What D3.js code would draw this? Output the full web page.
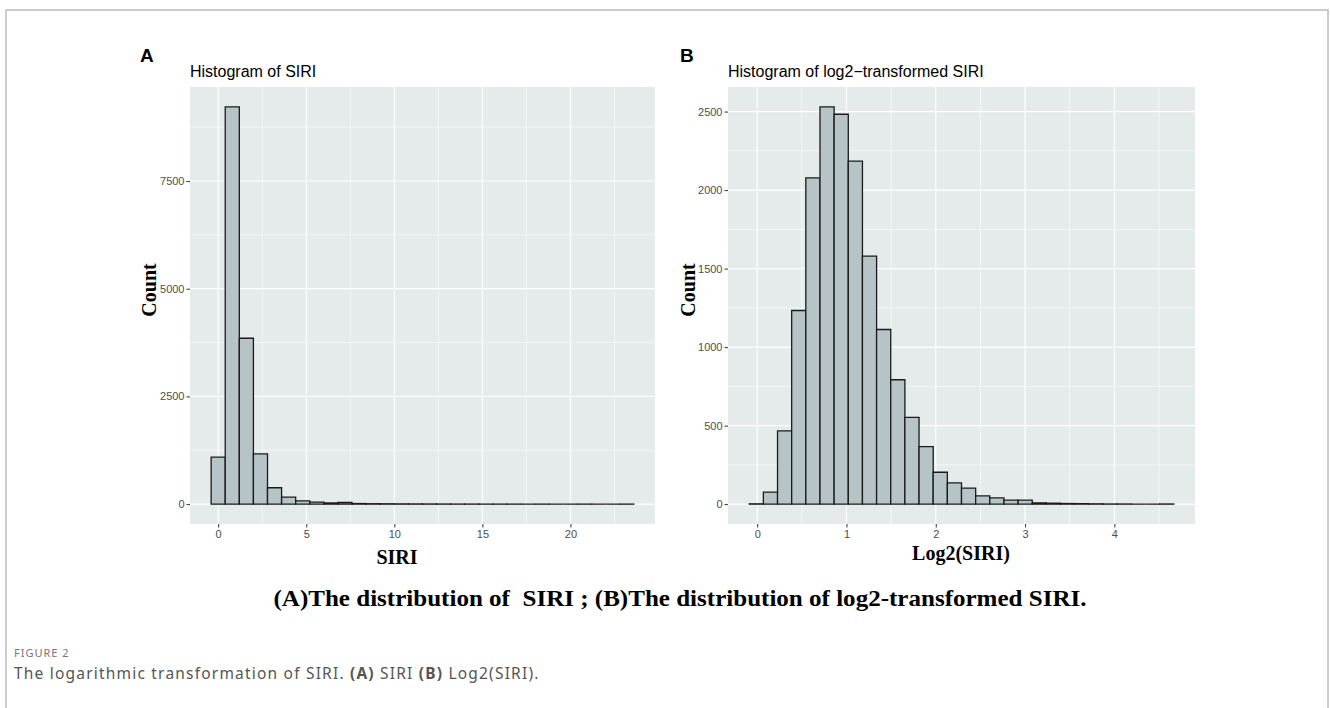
<!DOCTYPE html>
<html lang="en">
<head>
    <meta charset="UTF-8">
    <title>SIRI histograms</title>
    <script src="https://d3js.org/d3.v7.min.js"></script>
    <style>
        body {
            margin: 0;
            padding: 0;
            background: #fff;
            overflow: hidden;
        }
        .tick-label {
            font-family: "Liberation Sans", Arial, sans-serif;
            font-size: 11px;
            fill: #4d4d4d;
        }
        .axis-title {
            font-family: "Liberation Serif", "Times New Roman", serif;
            font-weight: bold;
            font-size: 20px;
            fill: #000;
        }
        .plot-title {
            font-family: "Liberation Sans", Arial, sans-serif;
            font-size: 16px;
            fill: #000;
        }
    </style>
</head>
<body>
    <svg width="1330" height="708"></svg>
    <script>

        // SIRI histogram: 30 bins, first bin centred at siriMin
        const siriMin = 0;
        const siriWidth = 0.8;
        const siriCounts = [1090, 9221, 3850, 1167, 380, 165, 78, 46, 28, 38,
                            14, 10, 8, 6, 5, 4, 3, 2, 2, 1,
                            1, 1, 0, 1, 0, 0, 1, 0, 0, 1];
        const siriXTicks = [0, 5, 10, 15, 20];
        const siriYTicks = [0, 2500, 5000, 7500];

        // log2(SIRI) histogram
        const logMin = -0.01;
        const logWidth = 0.1585;
        const logCounts = [2, 76, 466, 1233, 2078, 2530, 2483, 2184, 1580, 1112,
                           792, 553, 366, 203, 135, 102, 53, 40, 25, 25,
                           8, 6, 4, 3, 2, 1, 1, 0, 0, 1];
        const logXTicks = [0, 1, 2, 3, 4];
        const logYTicks = [0, 500, 1000, 1500, 2000, 2500];

        const svg = d3.select("svg");

        // outer frame of the figure
        svg.append("rect")
            .attr("x", 6).attr("y", 10)
            .attr("width", 1322).attr("height", 720)
            .attr("fill", "none")
            .attr("stroke", "#bdbdbd")
            .attr("stroke-width", 1.5);

        function drawHist(opts) {
            const counts = opts.counts, w = opts.binWidth, m = opts.min;
            const bins = counts.map((c, i) => ({x0: m + (i - 0.5) * w, x1: m + (i + 0.5) * w, n: c}));
            const lo = bins[0].x0, hi = bins[bins.length - 1].x1;
            const padX = (hi - lo) * 0.05;
            const maxN = d3.max(counts);
            const padY = maxN * 0.05;

            const x = d3.scaleLinear().domain([lo - padX, hi + padX]).range([opts.left, opts.right]);
            const y = d3.scaleLinear().domain([-padY, maxN + padY]).range([opts.bottom, opts.top]);

            const g = svg.append("g");

            g.append("rect")
                .attr("x", opts.left).attr("y", opts.top)
                .attr("width", opts.right - opts.left)
                .attr("height", opts.bottom - opts.top)
                .attr("fill", "#e5eaea");

            // minor grid (midpoints between major ticks)
            const xs = opts.xTicks, ys = opts.yTicks;
            const xStep = xs[1] - xs[0], yStep = ys[1] - ys[0];
            const xMinor = d3.range(xs[0] - xStep / 2, hi + padX, xStep).filter(v => x(v) > opts.left && x(v) < opts.right);
            const yMinor = d3.range(ys[0] + yStep / 2, maxN + padY, yStep);

            g.selectAll(".xminor").data(xMinor).enter().append("line")
                .attr("x1", d => x(d)).attr("x2", d => x(d))
                .attr("y1", opts.top).attr("y2", opts.bottom)
                .attr("stroke", "#fff").attr("stroke-width", 0.6);
            g.selectAll(".yminor").data(yMinor).enter().append("line")
                .attr("y1", d => y(d)).attr("y2", d => y(d))
                .attr("x1", opts.left).attr("x2", opts.right)
                .attr("stroke", "#fff").attr("stroke-width", 0.6);
            g.selectAll(".xmajor").data(xs).enter().append("line")
                .attr("x1", d => x(d)).attr("x2", d => x(d))
                .attr("y1", opts.top).attr("y2", opts.bottom)
                .attr("stroke", "#fff").attr("stroke-width", 1.2);
            g.selectAll(".ymajor").data(ys).enter().append("line")
                .attr("y1", d => y(d)).attr("y2", d => y(d))
                .attr("x1", opts.left).attr("x2", opts.right)
                .attr("stroke", "#fff").attr("stroke-width", 1.2);

            // bars as paths so empty bins still show the outline
            g.selectAll(".bar").data(bins).enter().append("path")
                .attr("d", d => `M${x(d.x0)},${y(0)}V${y(d.n)}H${x(d.x1)}V${y(0)}Z`)
                .attr("fill", "#b6c4c7")
                .attr("stroke", "#1a1a1a")
                .attr("stroke-width", 1.3);

            // axes
            const xAxis = d3.axisBottom(x).tickValues(xs).tickFormat(d => String(d)).tickSize(3.5).tickPadding(3);
            const yAxis = d3.axisLeft(y).tickValues(ys).tickFormat(d => String(d)).tickSize(3.5).tickPadding(2);

            const gx = g.append("g").attr("transform", `translate(0,${opts.bottom})`).call(xAxis);
            const gy = g.append("g").attr("transform", `translate(${opts.left},0)`).call(yAxis);
            [gx, gy].forEach(a => {
                a.select(".domain").remove();
                a.selectAll(".tick line").attr("stroke", "#333").attr("stroke-width", 1);
                a.selectAll(".tick text").attr("class", "tick-label").attr("font-size", null).attr("font-family", null);
            });

            // titles
            g.append("text").attr("class", "plot-title")
                .attr("x", opts.left).attr("y", 77)
                .text(opts.title);
            g.append("text")
                .attr("x", opts.tagX).attr("y", 62)
                .attr("font-family", "'Liberation Sans', Arial, sans-serif")
                .attr("font-weight", "bold").attr("font-size", 19)
                .text(opts.tag);
            g.append("text").attr("class", "axis-title")
                .attr("transform", `translate(${opts.yTitleX},290) rotate(-90)`)
                .attr("text-anchor", "middle")
                .text("Count");
            g.append("text").attr("class", "axis-title")
                .attr("x", opts.xTitleX).attr("y", opts.xTitleY)
                .attr("text-anchor", "middle")
                .text(opts.xTitle);
        }

        drawHist({
            counts: siriCounts, binWidth: siriWidth, min: siriMin,
            xTicks: siriXTicks, yTicks: siriYTicks,
            left: 190, right: 655, top: 87, bottom: 524,
            title: "Histogram of SIRI", tag: "A", tagX: 140,
            yTitleX: 156, xTitle: "SIRI", xTitleX: 397, xTitleY: 564
        });

        drawHist({
            counts: logCounts, binWidth: logWidth, min: logMin,
            xTicks: logXTicks, yTicks: logYTicks,
            left: 728, right: 1195, top: 87, bottom: 524,
            title: "Histogram of log2\u2212transformed SIRI", tag: "B", tagX: 680,
            yTitleX: 695, xTitle: "Log2(SIRI)", xTitleX: 961, xTitleY: 560
        });

        // figure caption inside the image
        svg.append("text")
            .attr("x", 680).attr("y", 606)
            .attr("text-anchor", "middle")
            .attr("font-family", "'Liberation Serif', 'Times New Roman', serif")
            .attr("font-weight", "bold")
            .attr("font-size", 23)
            .attr("textLength", 813)
            .attr("lengthAdjust", "spacingAndGlyphs")
            .style("white-space", "pre")
            .text("(A)The distribution of  SIRI ; (B)The distribution of log2-transformed SIRI.");

        // journal caption
        svg.append("text")
            .attr("x", 14).attr("y", 657)
            .attr("font-family", "'Noto Sans', sans-serif")
            .attr("font-size", 11)
            .attr("fill", "#777")
            .attr("letter-spacing", 1)
            .text("FIGURE 2");

        const cap = svg.append("text")
            .attr("x", 14).attr("y", 679)
            .attr("font-family", "'Noto Sans', sans-serif")
            .attr("font-size", 15.5)
            .attr("letter-spacing", 1.2)
            .attr("fill", "#555");
        cap.append("tspan").text("The logarithmic transformation of SIRI. ");
        cap.append("tspan").attr("font-weight", "bold").text("(A)");
        cap.append("tspan").text(" SIRI ");
        cap.append("tspan").attr("font-weight", "bold").text("(B)");
        cap.append("tspan").text(" Log2(SIRI).");
    </script>
</body>
</html>
